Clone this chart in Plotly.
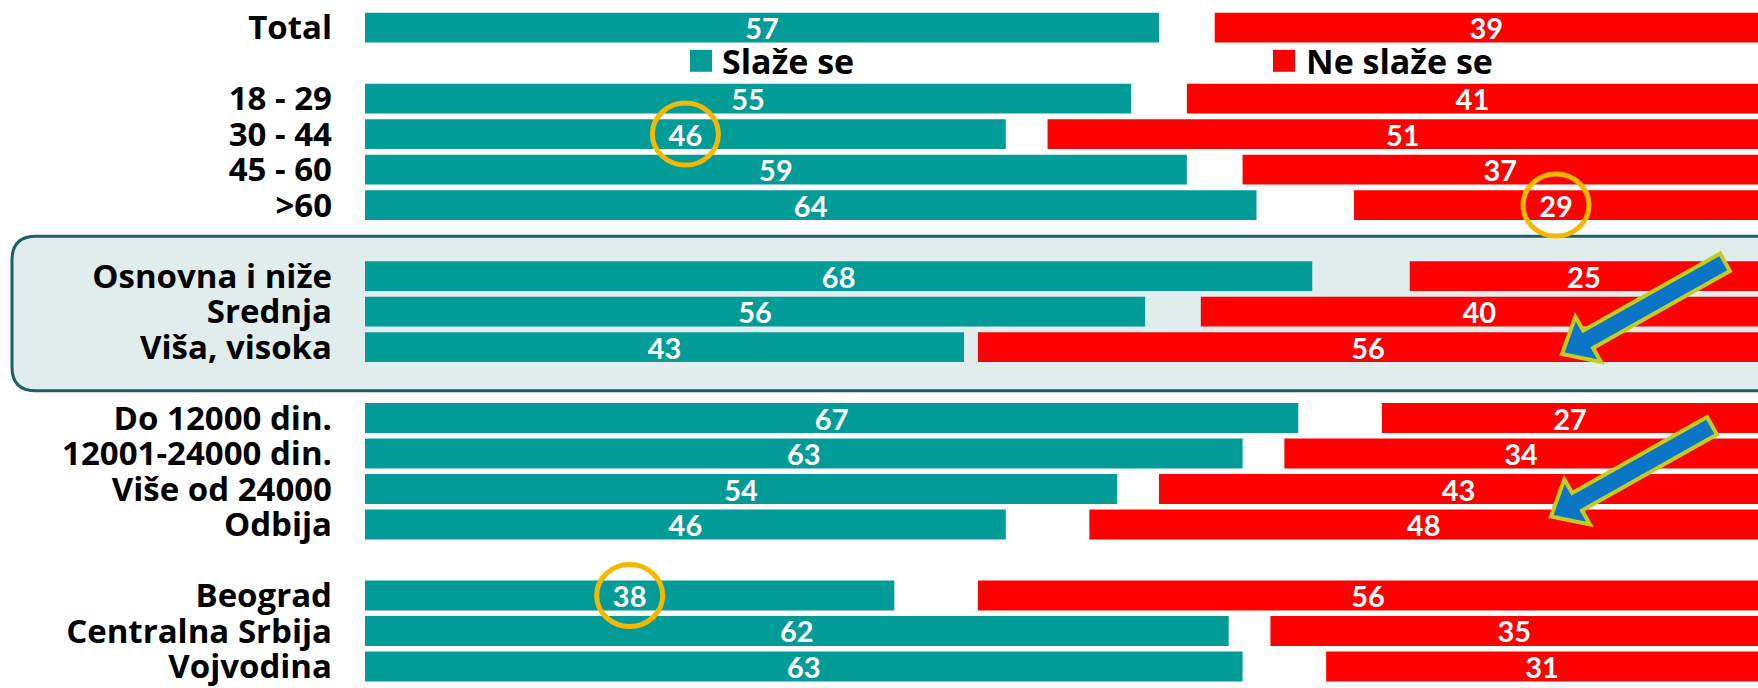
import plotly.graph_objects as go

ZELENA = "#019B98"
CRVENA = "#FF0000"
ZUTA = "#F5B800"
PLAVA = "#0B76C6"
OKVIR = "#1D5F66"
FONT = "Open Sans"
FONT_BR = "Lato"

W, H = 1758, 688
L_MARG = 365

# podaci
kategorije = ["Total", "18 - 29", "30 - 44", "45 - 60", ">60",
              "Osnovna i niže", "Srednja", "Viša, visoka",
              "Do 12000 din.", "12001-24000 din.", "Više od 24000", "Odbija",
              "Beograd", "Centralna Srbija", "Vojvodina"]
slaze_se = [57, 55, 46, 59, 64, 68, 56, 43, 67, 63, 54, 46, 38, 62, 63]
ne_slaze_se = [39, 41, 51, 37, 29, 25, 40, 56, 27, 34, 43, 48, 56, 35, 31]

# redosled na osi, prazni redovi razdvajaju grupe
redosled = ["Total", " ", "18 - 29", "30 - 44", "45 - 60", ">60", "  ",
            "Osnovna i niže", "Srednja", "Viša, visoka", "   ",
            "Do 12000 din.", "12001-24000 din.", "Više od 24000", "Odbija", "    ",
            "Beograd", "Centralna Srbija", "Vojvodina"]

# oznaceni brojevi: (kategorija, serija)
zaokruzeno = [("30 - 44", "slaze"), (">60", "ne"), ("Beograd", "slaze")]


def px(x, y):
    """piksel -> paper koordinate"""
    return (x - L_MARG) / (W - L_MARG), (H - y) / H


def strelica(tail, tip, sw=10, hw=26, hl=30):
    import math
    dx, dy = tip[0] - tail[0], tip[1] - tail[1]
    d = math.hypot(dx, dy)
    ux, uy = dx / d, dy / d
    nx, ny = -uy, ux
    bx, by = tip[0] - ux * hl, tip[1] - uy * hl
    pts = [
        (tail[0] + nx * sw, tail[1] + ny * sw),
        (bx + nx * sw, by + ny * sw),
        (bx + nx * hw, by + ny * hw),
        tip,
        (bx - nx * hw, by - ny * hw),
        (bx - nx * sw, by - ny * sw),
        (tail[0] - nx * sw, tail[1] - ny * sw),
    ]
    s = ""
    for i, (x, y) in enumerate(pts):
        X, Y = px(x, y)
        s += ("M" if i == 0 else "L") + f"{X:.5f},{Y:.5f} "
    return s + "Z"


def zaobljen(x0, y0, x1, y1, r):
    p = lambda x, y: "{:.5f},{:.5f}".format(*px(x, y))
    return (f"M{p(x0 + r, y0)} L{p(x1, y0)} L{p(x1, y1)} L{p(x0 + r, y1)} "
            f"Q{p(x0, y1)} {p(x0, y1 - r)} L{p(x0, y0 + r)} Q{p(x0, y0)} {p(x0 + r, y0)} Z")


tekst = dict(color="white", size=29, family=FONT_BR, weight="bold")

fig = go.Figure()
fig.add_trace(go.Bar(
    y=kategorije, x=slaze_se, orientation="h",
    marker=dict(color=ZELENA, line=dict(width=0)),
    width=0.84, name="Slaže se",
    text=slaze_se, textposition="inside", insidetextanchor="middle",
    textangle=0, constraintext="none", textfont=tekst,
))
fig.add_trace(go.Bar(
    y=kategorije, x=ne_slaze_se, base=[100 - v for v in ne_slaze_se],
    orientation="h",
    marker=dict(color=CRVENA, line=dict(width=0)),
    width=0.84, name="Ne slaže se",
    text=ne_slaze_se, textposition="inside", insidetextanchor="middle",
    textangle=0, constraintext="none", textfont=tekst,
))

shapes = []
# okvir oko obrazovanja
shapes.append(dict(
    type="path", xref="paper", yref="paper", layer="below",
    path=zaobljen(12, 237, 1780, 392, 24),
    fillcolor="#E1EDED", line=dict(color=OKVIR, width=3),
))
# krugovi
for kat, serija in zaokruzeno:
    i = kategorije.index(kat)
    if serija == "slaze":
        xc = slaze_se[i] / 2
    else:
        xc = 100 - ne_slaze_se[i] / 2
    shapes.append(dict(
        type="circle", xref="x", yref="y",
        xsizemode="pixel", ysizemode="pixel",
        xanchor=xc, yanchor=kat,
        x0=-33, x1=33, y0=-31, y1=31,
        line=dict(color=ZUTA, width=5),
    ))
# strelice
for tail, tip in [((1725, 263), (1562, 355)), ((1712, 427), (1551, 518))]:
    shapes.append(dict(
        type="path", xref="paper", yref="paper",
        path=strelica(tail, tip),
        fillcolor=PLAVA, line=dict(color="#C5CC20", width=4),
    ))
# legenda
annotations = []
for (sx, tx, boja, naziv) in [(690, 720, ZELENA, "Slaže se"),
                              (1273, 1304, CRVENA, "Ne slaže se")]:
    a0, b0 = px(sx, 50)
    a1, b1 = px(sx + 22, 72)
    shapes.append(dict(type="rect", xref="paper", yref="paper",
                       x0=a0, x1=a1, y0=b1, y1=b0,
                       fillcolor=boja, line=dict(width=0)))
    ax, ay = px(tx, 61)
    annotations.append(dict(
        x=ax, y=ay, xref="paper", yref="paper", text=naziv,
        showarrow=False, xanchor="left", yanchor="middle",
        font=dict(size=34, color="black", family=FONT, weight="bold"),
    ))

fig.update_layout(
    width=W, height=H,
    margin=dict(l=L_MARG, r=0, t=0, b=0),
    barmode="overlay",
    showlegend=False,
    paper_bgcolor="white",
    plot_bgcolor="rgba(0,0,0,0)",
    font=dict(family=FONT, color="black"),
    shapes=shapes,
    annotations=annotations,
    xaxis=dict(range=[0, 100], visible=False, fixedrange=True),
    yaxis=dict(
        type="category", categoryorder="array", categoryarray=redosled,
        tickmode="array", tickvals=kategorije, ticktext=kategorije,
        range=[18.55, -0.778],
        showgrid=False, zeroline=False, showline=False, ticks="",
        ticklabelstandoff=32,
        tickfont=dict(size=33, color="black", family=FONT, weight="bold"),
    ),
)

# bez podrazumevane margine stranice, da grafik pocne u (0,0)
fig.write_html("out.html", config={"displayModeBar": False},
               post_script="document.body.style.margin='0';")
